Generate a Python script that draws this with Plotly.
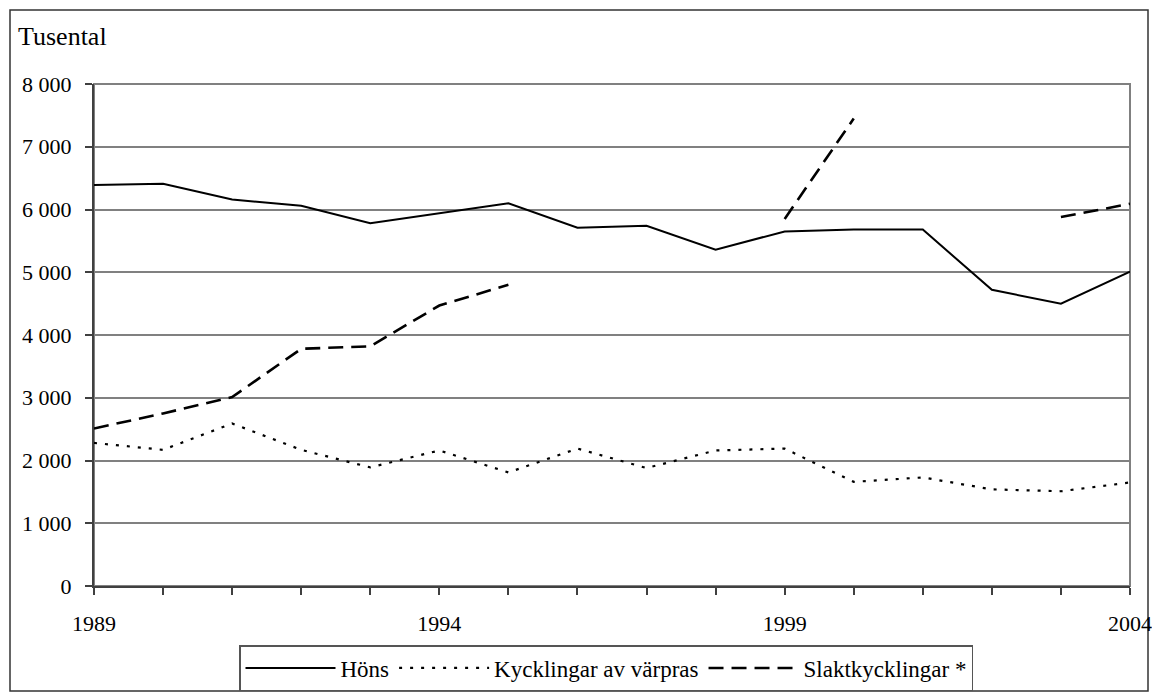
import plotly.graph_objects as go

years = list(range(1989, 2005))
hons = [6390, 6410, 6160, 6060, 5780, 5940, 6100, 5710, 5740, 5360, 5650, 5680, 5680, 4720, 4500, 5010]
kyckl_varpras = [2280, 2170, 2590, 2170, 1890, 2160, 1810, 2190, 1880, 2160, 2190, 1660, 1730, 1540, 1510, 1650]
slakt = [2510, 2750, 3010, 3780, 3820, 4470, 4800, None, None, None, 5850, 7450, None, None, 5880, 6090]

y_ticks = [0, 1000, 2000, 3000, 4000, 5000, 6000, 7000, 8000]
y_ticktext = ["0", "1 000", "2 000", "3 000", "4 000", "5 000", "6 000", "7 000", "8 000"]
x_ticks = [1989, 1994, 1999, 2004]
x_ticktext = ["1989", "1994", "1999", "2004"]

names = ["Höns", "Kycklingar av värpras", "Slaktkycklingar *"]

FONT = "Liberation Serif"

fig = go.Figure()
fig.add_trace(go.Scatter(x=years, y=hons, name=names[0], mode="lines",
                         line=dict(color="black", width=2)))
fig.add_trace(go.Scatter(x=years, y=kyckl_varpras, name=names[1], mode="lines",
                         line=dict(color="black", width=2.2, dash="3px,8px")))
fig.add_trace(go.Scatter(x=years, y=slakt, name=names[2], mode="lines", connectgaps=False,
                         line=dict(color="black", width=2.6, dash="15px,8px")))

W, H = 1152, 695
L, R, T, B = 94, 22, 84, 695 - 586
pw, ph = W - L - R, H - T - B

def px_x(p):
    return (p - L) / pw

def px_y(p):
    return (H - B - p) / ph

fig.update_layout(
    width=W, height=H,
    margin=dict(l=L, r=R, t=T, b=B, pad=0, autoexpand=False),
    paper_bgcolor="white", plot_bgcolor="white",
    font=dict(family=FONT, size=22, color="black"),
    showlegend=True,
    legend=dict(orientation="h", x=px_x(606), xanchor="center", y=px_y(645), yanchor="top",
                bordercolor="#555555", borderwidth=1.5, bgcolor="white",
                font=dict(family=FONT, size=23, color="black"),
                itemwidth=90, tracegroupgap=0, traceorder="normal"),
    xaxis=dict(range=[1989, 2004], tickvals=x_ticks, ticktext=x_ticktext,
               showgrid=False, zeroline=False, showline=True, linecolor="#404040", linewidth=2,
               ticks="outside", ticklen=7, tickcolor="#404040", tickwidth=1.5,
               ticklabelstandoff=10,
               minor=dict(dtick=1, tick0=1989, ticks="outside", ticklen=7, tickcolor="#404040",
                          tickwidth=1.5, showgrid=False),
               tickfont=dict(family=FONT, size=22, color="black")),
    yaxis=dict(range=[0, 8000], tickvals=y_ticks, ticktext=y_ticktext,
               showgrid=True, gridcolor="#808080", gridwidth=2, zeroline=False,
               showline=True, linecolor="#404040", linewidth=2,
               ticks="outside", ticklen=7, tickcolor="#404040", tickwidth=1.5,
               ticklabelstandoff=9,
               tickfont=dict(family=FONT, size=22, color="black")),
    shapes=[
        dict(type="rect", xref="paper", yref="paper", x0=0, x1=1, y0=0, y1=1,
             line=dict(color="#808080", width=2), layer="below"),
        dict(type="rect", xref="paper", yref="paper", x0=px_x(10), x1=px_x(1148), y0=px_y(691), y1=px_y(10),
             line=dict(color="#333333", width=1.5), layer="below"),
    ],
    annotations=[
        dict(text="Tusental", xref="paper", yref="paper", x=px_x(16), y=px_y(20), xanchor="left", yanchor="top",
             showarrow=False, font=dict(family=FONT, size=26, color="black")),
    ],
)

post = (
    "document.documentElement.style.margin='0';"
    "document.body.style.margin='0';"
    "document.body.style.overflow='hidden';"
)

fig.write_html("out.html", config={"displayModeBar": False}, post_script=post)
